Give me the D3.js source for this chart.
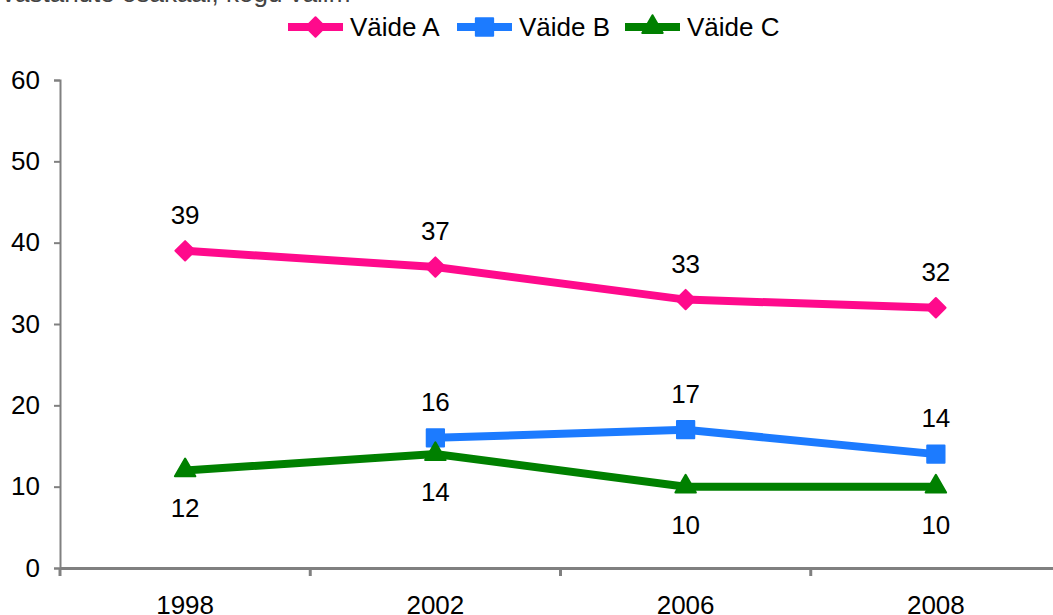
<!DOCTYPE html>
<html>
<head>
<meta charset="utf-8">
<script src="https://cdn.jsdelivr.net/npm/d3@7"></script>
<style>
  body { margin: 0; background: #fff; }
  text { font-family: "Liberation Sans", Arial, sans-serif; }
</style>
</head>
<body>
<div id="chart"></div>
<script>
// data
var years = ["1998", "2002", "2006", "2008"];
var yTicks = [0, 10, 20, 30, 40, 50, 60];
var seriesNames = ["Väide A", "Väide B", "Väide C"];
var valuesA = [39, 37, 33, 32];
var valuesB = [null, 16, 17, 14];
var valuesC = [12, 14, 10, 10];

var colors = ["#FF0A8C", "#1C7BFF", "#008000"];
var symbols = [d3.symbolDiamond2, d3.symbolSquare2, d3.symbolTriangle2];
var symbolSizes = [240, 380, 300];
var labelPos = ["above", "above", "below"];
var allValues = [valuesA, valuesB, valuesC];

var width = 1053, height = 615;
var margin = { top: 80, left: 60 };
var fontSize = "26px";

var svg = d3.select("#chart")
    .append("svg")
    .attr("width", width)
    .attr("height", height);

// title, cut off at the top
svg.append("text")
    .attr("x", 2)
    .attr("y", 2)
    .style("font-size", fontSize)
    .style("fill", "#444")
    .text("vastanute osakaal, kogu valim");

var x = d3.scaleBand()
    .domain(years)
    .range([margin.left, 1061]);

var y = d3.scaleLinear()
    .domain([0, 60])
    .range([568, margin.top]);

// y axis
var yAxis = svg.append("g")
    .attr("transform", "translate(" + margin.left + ",0)")
    .call(d3.axisLeft(y).tickValues(yTicks).tickSize(6).tickPadding(14));
yAxis.select(".domain").attr("stroke", "#808080").attr("stroke-width", 2);
yAxis.selectAll(".tick line").attr("stroke", "#808080").attr("stroke-width", 2);
yAxis.selectAll(".tick text").style("font-size", fontSize).attr("fill", "#000")
    .attr("font-family", "Liberation Sans, Arial, sans-serif");

// x axis
var xAxis = svg.append("g")
    .attr("transform", "translate(0," + y(0) + ")")
    .call(d3.axisBottom(x).tickSize(0).tickPadding(28));
xAxis.select(".domain").attr("stroke", "#808080").attr("stroke-width", 3);
xAxis.selectAll(".tick text").style("font-size", fontSize).attr("fill", "#000")
    .attr("font-family", "Liberation Sans, Arial, sans-serif");
// tick marks between categories
xAxis.selectAll(".sep")
    .data(years)
    .enter()
    .append("line")
    .attr("x1", function (d) { return x(d); })
    .attr("x2", function (d) { return x(d); })
    .attr("y1", 0)
    .attr("y2", 8)
    .attr("stroke", "#808080")
    .attr("stroke-width", 3);

var line = d3.line()
    .defined(function (d) { return d != null; })
    .x(function (d, i) { return x(years[i]) + x.bandwidth() / 2; })
    .y(function (d) { return y(d); });

allValues.forEach(function (vals, s) {
    var g = svg.append("g");
    g.append("path")
        .datum(vals)
        .attr("d", line)
        .attr("fill", "none")
        .attr("stroke", colors[s])
        .attr("stroke-width", 8);

    var pts = vals.map(function (v, i) { return { v: v, year: years[i] }; })
        .filter(function (d) { return d.v != null; });

    g.selectAll(".pt")
        .data(pts)
        .enter()
        .append("path")
        .attr("d", d3.symbol().type(symbols[s]).size(symbolSizes[s]))
        .attr("transform", function (d) {
            return "translate(" + (x(d.year) + x.bandwidth() / 2) + "," + y(d.v) + ")";
        })
        .attr("fill", colors[s])
        .attr("stroke", colors[s])
        .attr("stroke-width", 2)
        .attr("stroke-linejoin", "round");

    g.selectAll(".lbl")
        .data(pts)
        .enter()
        .append("text")
        .attr("x", function (d) { return x(d.year) + x.bandwidth() / 2; })
        .attr("y", function (d) {
            return labelPos[s] === "above" ? y(d.v) - 27 : y(d.v) + 47;
        })
        .attr("text-anchor", "middle")
        .style("font-size", fontSize)
        .attr("fill", "#000")
        .text(function (d) { return d.v; });
});

// legend
var legendX = [288, 457, 625];
var legend = svg.append("g");
seriesNames.forEach(function (name, s) {
    var lg = legend.append("g").attr("transform", "translate(" + legendX[s] + ",27)");
    lg.append("line")
        .attr("x1", 0).attr("x2", 55)
        .attr("stroke", colors[s])
        .attr("stroke-width", 8);
    lg.append("path")
        .attr("d", d3.symbol().type(symbols[s]).size(symbolSizes[s]))
        .attr("transform", "translate(27.5,0)")
        .attr("fill", colors[s])
        .attr("stroke", colors[s])
        .attr("stroke-width", 2)
        .attr("stroke-linejoin", "round");
    lg.append("text")
        .attr("x", 62)
        .attr("y", 9)
        .style("font-size", fontSize)
        .attr("fill", "#000")
        .text(name);
});
</script>
</body>
</html>
